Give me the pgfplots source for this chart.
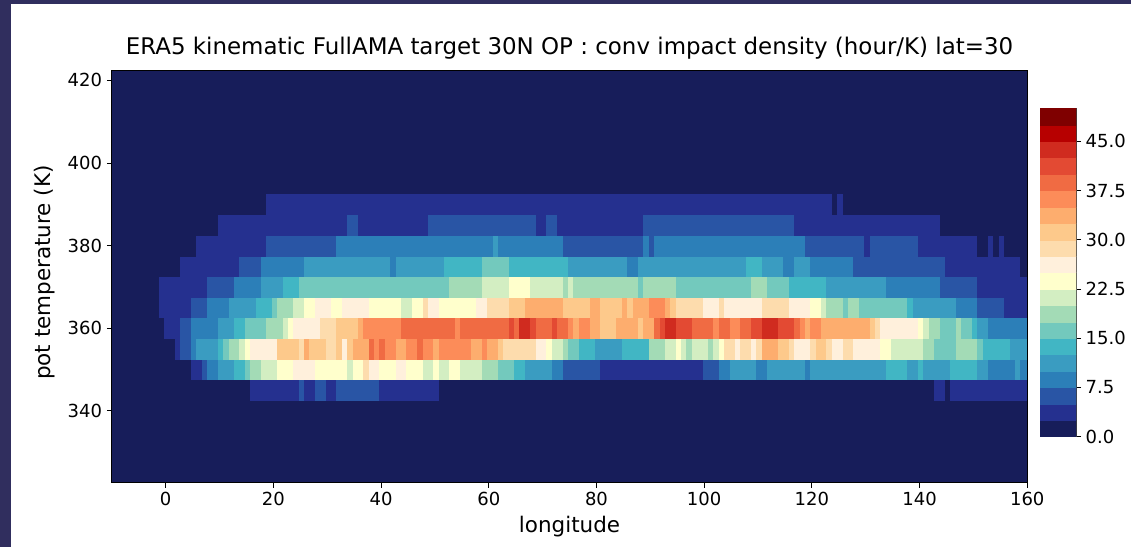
\documentclass[border=0pt]{standalone}
\usepackage{pgfplots}
\pgfplotsset{compat=1.18}
\usepackage{pgfplotstable}
\usepackage{fontspec}
\setmainfont{DejaVu Sans}

% 20 discrete levels, 2.5 hour/K each (YlGnBu reversed below, OrRd above)
\definecolor{lv0}{HTML}{171D5A}
\definecolor{lv1}{HTML}{25308F}
\definecolor{lv2}{HTML}{2955A5}
\definecolor{lv3}{HTML}{2C7FB8}
\definecolor{lv4}{HTML}{3A9CC1}
\definecolor{lv5}{HTML}{41B6C4}
\definecolor{lv6}{HTML}{73C9BD}
\definecolor{lv7}{HTML}{A3DBB6}
\definecolor{lv8}{HTML}{D3EEC2}
\definecolor{lv9}{HTML}{FFFFCC}
\definecolor{lv10}{HTML}{FFF0DC}
\definecolor{lv11}{HTML}{FDDCAD}
\definecolor{lv12}{HTML}{FDC98B}
\definecolor{lv13}{HTML}{FDAD6E}
\definecolor{lv14}{HTML}{FC8C59}
\definecolor{lv15}{HTML}{F06B43}
\definecolor{lv16}{HTML}{E34A33}
\definecolor{lv17}{HTML}{D02B1F}
\definecolor{lv18}{HTML}{B70000}
\definecolor{lv19}{HTML}{7F0000}
\definecolor{framebg}{HTML}{302E5E}

% one grid cell: 1 deg of longitude by 5 K of potential temperature
\pgfdeclareplotmark{heatcell}{%
  \pgfpathrectangle{\pgfqpoint{-2.0194pt}{-7.7375pt}}{\pgfqpoint{4.0388pt}{15.475pt}}%
  \pgfusepathqfillstroke}
% one colour-bar band: 2.5 hour/K
\pgfdeclareplotmark{barcell}{%
  \pgfpathrectangle{\pgfqpoint{-14pt}{-6.155pt}}{\pgfqpoint{28pt}{12.31pt}}%
  \pgfusepathqfillstroke}

\pgfplotsset{
  impact levels/.style={
    scatter/classes={
      0={draw=lv0,fill=lv0}, 4={draw=lv1,fill=lv1}, 6={draw=lv2,fill=lv2},
      9={draw=lv3,fill=lv3}, 11={draw=lv4,fill=lv4}, 14={draw=lv5,fill=lv5},
      16={draw=lv6,fill=lv6}, 19={draw=lv7,fill=lv7}, 21={draw=lv8,fill=lv8},
      24={draw=lv9,fill=lv9}, 26={draw=lv10,fill=lv10}, 29={draw=lv11,fill=lv11},
      31={draw=lv12,fill=lv12}, 34={draw=lv13,fill=lv13}, 36={draw=lv14,fill=lv14},
      39={draw=lv15,fill=lv15}, 41={draw=lv16,fill=lv16}, 44={draw=lv17,fill=lv17},
      46={draw=lv18,fill=lv18}, 49={draw=lv19,fill=lv19}
    }
  }
}

% conv impact density (hour/K), one line per longitude cell,
% one column per potential-temperature layer (centre in K)
\pgfplotstableread{
lon t345 t350 t355 t360 t365 t370 t375 t380 t385 t390
-0.75 0 0 0 0 4 4 0 0 0 0
0.25 0 0 0 4 4 4 0 0 0 0
1.25 0 0 0 4 4 4 0 0 0 0
2.25 0 0 4 4 4 4 0 0 0 0
3.25 0 0 6 6 4 4 4 0 0 0
4.25 0 0 6 6 4 4 4 0 0 0
5.25 0 4 9 9 6 4 4 0 0 0
6.25 0 4 11 9 6 4 4 4 0 0
7.25 0 6 11 9 6 4 4 4 0 0
8.25 0 9 11 9 9 6 4 4 0 0
9.25 0 9 11 9 9 6 4 4 0 0
10.25 0 11 14 11 9 6 4 4 4 0
11.25 0 11 16 11 9 6 4 4 4 0
12.25 0 11 19 11 11 6 4 4 4 0
13.25 0 14 19 14 11 9 4 4 4 0
14.25 0 14 21 14 11 9 6 4 4 0
15.25 0 16 24 16 11 9 6 4 4 0
16.25 4 19 26 16 11 9 6 4 4 0
17.25 4 19 26 16 14 9 6 4 4 0
18.25 4 21 26 16 14 11 9 4 4 0
19.25 4 21 26 19 14 11 9 6 4 4
20.25 4 21 26 19 16 11 9 6 4 4
21.25 4 24 31 19 19 11 9 6 4 4
22.25 4 24 31 21 19 14 9 6 4 4
23.25 4 24 31 24 19 14 9 6 4 4
24.25 4 26 31 26 21 14 9 6 4 4
25.25 6 26 29 26 21 16 9 6 4 4
26.25 4 26 34 26 24 16 11 6 4 4
27.25 4 26 31 26 24 16 11 6 4 4
28.25 6 24 31 26 26 16 11 6 4 4
29.25 6 24 31 29 26 16 11 6 4 4
30.25 4 24 29 29 26 16 11 6 4 4
31.25 4 24 29 29 24 16 11 6 4 4
32.25 6 24 31 31 24 16 11 9 4 4
33.25 6 24 26 31 26 16 11 9 4 4
34.25 6 21 31 31 26 16 11 9 6 4
35.25 6 24 34 31 26 16 11 9 6 4
36.25 6 24 34 34 26 16 11 9 4 4
37.25 6 29 34 36 26 16 11 9 4 4
38.25 6 26 39 36 24 16 11 9 4 4
39.25 6 26 36 36 24 16 11 9 4 4
40.25 4 24 39 36 24 16 11 9 4 4
41.25 4 24 36 36 24 16 11 9 4 4
42.25 4 24 36 36 24 16 9 9 4 4
43.25 4 26 34 36 24 16 11 9 4 4
44.25 4 26 34 39 21 16 11 9 4 4
45.25 4 24 36 39 21 16 11 9 4 4
46.25 4 24 36 39 24 16 11 9 4 4
47.25 4 24 39 39 24 16 11 9 4 4
48.25 4 21 36 39 29 16 11 9 4 4
49.25 4 21 36 39 26 16 11 9 6 4
50.25 4 24 34 39 26 16 11 9 6 4
51.25 0 21 36 39 24 16 11 9 6 4
52.25 0 21 36 39 24 16 14 9 6 4
53.25 0 24 36 39 24 19 14 9 6 4
54.25 0 24 36 36 24 19 14 9 6 4
55.25 0 21 36 39 24 19 14 9 6 4
56.25 0 21 36 39 24 19 14 9 6 4
57.25 0 21 34 39 24 19 14 9 6 4
58.25 0 21 34 39 26 19 14 9 6 4
59.25 0 19 36 39 26 21 16 9 6 4
60.25 0 19 34 39 29 21 16 9 6 4
61.25 0 19 34 39 29 21 16 11 6 4
62.25 0 16 31 39 29 21 16 9 6 4
63.25 0 16 29 39 29 21 16 9 6 4
64.25 0 16 29 41 31 24 14 9 6 4
65.25 0 14 29 39 31 24 14 9 6 4
66.25 0 14 29 44 31 24 14 9 6 4
67.25 0 11 29 44 34 24 14 9 6 4
68.25 0 11 29 41 34 21 14 9 6 4
69.25 0 11 26 39 34 21 14 9 4 4
70.25 0 11 26 39 34 21 14 9 4 4
71.25 0 11 24 39 34 21 14 9 6 4
72.25 0 9 21 41 34 21 14 9 6 4
73.25 0 9 21 39 34 21 14 9 4 4
74.25 0 6 19 39 31 19 14 6 4 4
75.25 0 6 16 36 31 21 11 6 4 4
76.25 0 6 16 34 31 19 11 6 4 4
77.25 0 6 14 36 31 19 11 6 4 4
78.25 0 6 14 36 31 19 11 6 4 4
79.25 0 6 14 34 34 19 11 6 4 4
80.25 0 6 11 34 34 19 11 6 4 4
81.25 0 4 11 31 31 19 11 6 4 4
82.25 0 4 11 31 31 19 11 6 4 4
83.25 0 4 11 31 31 19 11 6 4 4
84.25 0 4 11 34 31 19 11 6 4 4
85.25 0 4 14 34 34 19 11 6 4 4
86.25 0 4 14 34 31 19 9 6 4 4
87.25 0 4 14 34 34 19 9 6 4 4
88.25 0 4 14 31 34 16 11 6 4 4
89.25 0 4 14 34 34 19 11 9 6 4
90.25 0 4 19 34 36 19 11 6 6 4
91.25 0 4 19 39 36 19 11 9 6 4
92.25 0 4 19 41 36 19 11 9 6 4
93.25 0 4 21 44 34 19 11 9 6 4
94.25 0 4 21 44 31 19 11 9 6 4
95.25 0 4 24 41 29 16 11 9 6 4
96.25 0 4 21 41 29 16 11 9 6 4
97.25 0 4 19 41 29 16 11 9 6 4
98.25 0 4 21 39 29 16 11 9 6 4
99.25 0 4 21 39 29 16 11 9 6 4
100.25 0 6 21 39 26 16 11 9 6 4
101.25 0 6 19 39 26 16 11 9 6 4
102.25 0 6 21 36 26 16 11 9 6 4
103.25 0 9 24 39 29 16 11 9 6 4
104.25 0 9 29 39 26 16 11 9 6 4
105.25 0 11 29 36 26 16 11 9 6 4
106.25 0 11 26 36 26 16 11 9 6 4
107.25 0 11 29 39 26 16 11 9 6 4
108.25 0 11 29 39 26 16 14 9 6 4
109.25 0 11 26 41 26 19 14 9 6 4
110.25 0 9 29 41 26 19 14 9 6 4
111.25 0 9 34 44 29 19 11 9 6 4
112.25 0 11 34 44 29 16 11 9 6 4
113.25 0 11 34 44 29 16 11 9 6 4
114.25 0 11 31 41 29 16 11 9 6 4
115.25 0 11 31 41 29 16 9 9 6 4
116.25 0 11 29 41 26 14 9 9 6 4
117.25 0 11 26 39 26 14 11 9 4 4
118.25 0 11 26 36 26 14 11 9 4 4
119.25 0 9 26 34 26 14 11 6 4 4
120.25 0 11 29 36 24 14 9 6 4 4
121.25 0 11 31 36 24 14 9 6 4 4
122.25 0 11 31 34 21 14 9 6 4 4
123.25 0 11 29 34 19 11 9 6 4 4
124.25 0 11 26 34 19 11 9 6 4 0
125.25 0 11 26 34 19 11 9 6 4 4
126.25 0 11 29 34 16 11 9 6 4 0
127.25 0 11 29 34 19 11 9 6 4 0
128.25 0 11 26 34 19 11 6 6 4 0
129.25 0 11 26 34 16 11 6 6 4 0
130.25 0 11 26 34 16 11 6 4 4 0
131.25 0 11 26 31 16 11 6 6 4 0
132.25 0 11 26 29 16 11 6 6 4 0
133.25 0 11 24 26 16 11 6 6 4 0
134.25 0 14 24 26 16 9 6 6 4 0
135.25 0 14 21 26 16 9 6 6 4 0
136.25 0 14 21 26 16 9 6 6 4 0
137.25 0 14 21 26 16 9 6 6 4 0
138.25 0 11 21 26 14 9 6 6 4 0
139.25 0 11 21 26 11 9 6 6 4 0
140.25 0 14 21 24 11 9 6 4 4 0
141.25 0 11 19 21 11 9 6 4 4 0
142.25 0 11 19 19 11 9 6 4 4 0
143.25 4 11 16 19 11 9 6 4 4 0
144.25 4 11 16 16 11 6 6 4 0 0
145.25 0 11 16 16 11 6 4 4 0 0
146.25 4 14 16 16 11 6 4 4 0 0
147.25 4 14 19 19 9 6 4 4 0 0
148.25 4 14 19 16 9 6 4 4 0 0
149.25 4 14 19 16 9 6 4 4 0 0
150.25 4 14 19 14 9 6 4 4 0 0
151.25 4 11 16 11 6 4 4 0 0 0
152.25 4 11 14 11 6 4 4 0 0 0
153.25 4 9 14 9 6 4 4 4 0 0
154.25 4 9 14 9 6 4 4 0 0 0
155.25 4 9 14 9 6 4 4 4 0 0
156.25 4 9 14 9 4 4 4 0 0 0
157.25 4 9 11 9 4 4 4 0 0 0
158.25 4 11 11 9 4 4 4 0 0 0
159.25 4 9 11 9 4 4 0 0 0 0
160.25 4 9 11 9 4 4 0 0 0 0
}\impactdata

% colour-bar bands: centre of each 2.5 hour/K level and its class value
\pgfplotstableread{
x y c
0.5 1.25 0
0.5 3.75 4
0.5 6.25 6
0.5 8.75 9
0.5 11.25 11
0.5 13.75 14
0.5 16.25 16
0.5 18.75 19
0.5 21.25 21
0.5 23.75 24
0.5 26.25 26
0.5 28.75 29
0.5 31.25 31
0.5 33.75 34
0.5 36.25 36
0.5 38.75 39
0.5 41.25 41
0.5 43.75 44
0.5 46.25 46
0.5 48.75 49
}\leveldata

\begin{document}
\begin{tikzpicture}
% page background with the window edge on the left and top
\fill[white] (0,0) rectangle (848.25pt,410.25pt);
\fill[framebg] (0,0) rectangle (8.25pt,410.25pt);
\fill[framebg] (0,407.6pt) rectangle (848.25pt,410.25pt);

\begin{axis}[
  at={(83.85pt,48.2pt)}, anchor=south west,
  scale only axis, width=686.6pt, height=309.5pt,
  xmin=-10, xmax=160, ymin=322.5, ymax=422.5,
  axis background/.style={fill=lv0},
  xtick={0,20,...,160}, ytick={340,360,...,420},
  tick pos=left, tick align=outside,
  major tick length=3.75pt,
  tick style={black, line width=0.6pt},
  axis line style={black, line width=0.6pt},
  /pgf/number format/assume math mode=true,
  tick label style={font=\fontsize{13.5}{16}\selectfont},
  label style={font=\fontsize{16.1}{19}\selectfont},
  title style={font=\fontsize{17.2}{20}\selectfont,
    at={(axis description cs:0.5,1)}, anchor=base, yshift=6pt},
  title={ERA5 kinematic FullAMA target 30N OP : conv impact density (hour/K) lat=30},
  xlabel={longitude},
  xlabel style={at={(axis description cs:0.5,-0.1208)}, anchor=base},
  ylabel={pot temperature (K)},
  ylabel style={at={(axis description cs:-0.0667,0.509)}, anchor=base, rotate=0},
  clip marker paths=true,
]
\pgfplotsinvokeforeach{345,350,...,390}{
  \addplot[scatter, only marks, mark=heatcell, mark options={line width=0.35pt},
    point meta=explicit symbolic, impact levels]
    table[x=lon, y expr=#1, meta=t#1]{\impactdata};
}
\end{axis}

\begin{axis}[
  at={(780pt,82.7pt)}, anchor=south west,
  scale only axis, width=27pt, height=246.2pt,
  xmin=0, xmax=1, ymin=0, ymax=50,
  xtick=\empty, ytick={0,7.5,...,45},
  ytick pos=right, yticklabel pos=right, tick align=outside,
  major tick length=3.75pt,
  tick style={black, line width=0.6pt},
  axis line style={black!75, line width=0.5pt},
  /pgf/number format/assume math mode=true,
  yticklabel style={font=\fontsize{13.5}{16}\selectfont,
    /pgf/number format/.cd, fixed, fixed zerofill, precision=1},
  clip marker paths=true,
]
\addplot[scatter, only marks, mark=barcell, mark options={line width=0.35pt},
  point meta=explicit symbolic, impact levels]
  table[x=x, y=y, meta=c]{\leveldata};
\end{axis}

\pgfresetboundingbox
\useasboundingbox (0,0) rectangle (848.25pt,410.25pt);
\end{tikzpicture}
\end{document}
